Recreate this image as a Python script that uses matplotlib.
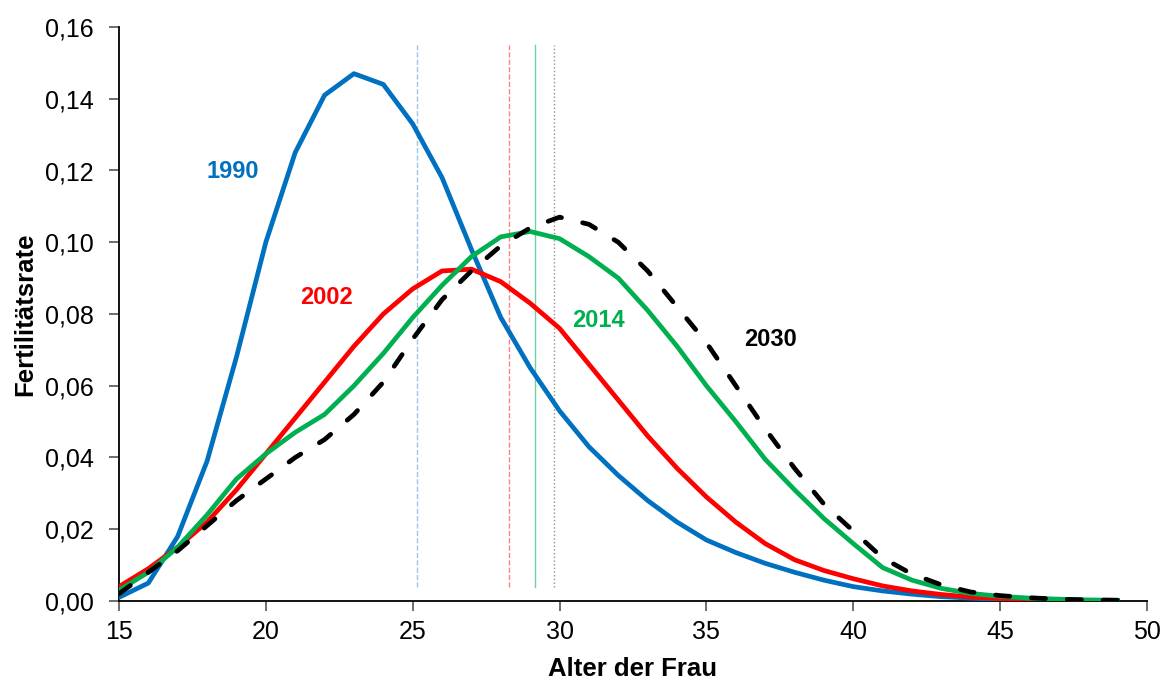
import matplotlib
matplotlib.use("Agg")
import matplotlib.pyplot as plt
import matplotlib.ticker as mticker

plt.rcParams["font.family"] = ["Liberation Sans", "DejaVu Sans"]

BLUE = "#0070C0"
RED = "#FF0000"
GREEN = "#00B050"
BLACK = "#000000"

ages = list(range(15, 50))

rate_1990 = [0.001, 0.005, 0.018, 0.039, 0.068, 0.100, 0.125, 0.141, 0.147, 0.144,
             0.133, 0.118, 0.098, 0.079, 0.065, 0.053, 0.043, 0.035, 0.028, 0.022,
             0.017, 0.0135, 0.0105, 0.008, 0.0058, 0.0040, 0.0028, 0.0019, 0.0012, 0.0008,
             0.0005, 0.0003, 0.0002, 0.0001, 0.0001]
rate_2002 = [0.004, 0.009, 0.015, 0.022, 0.031, 0.041, 0.051, 0.061, 0.071, 0.080,
             0.087, 0.092, 0.0925, 0.089, 0.083, 0.076, 0.066, 0.056, 0.046, 0.037,
             0.029, 0.022, 0.016, 0.0115, 0.0085, 0.0062, 0.0042, 0.0028, 0.0018, 0.0011,
             0.0007, 0.0004, 0.0002, 0.0001, 0.0001]
rate_2014 = [0.003, 0.008, 0.015, 0.024, 0.034, 0.041, 0.047, 0.052, 0.060, 0.069,
             0.079, 0.088, 0.096, 0.1015, 0.103, 0.101, 0.096, 0.090, 0.081, 0.071,
             0.060, 0.050, 0.0395, 0.031, 0.023, 0.016, 0.0093, 0.0058, 0.0035, 0.0021,
             0.0013, 0.0008, 0.0005, 0.0003, 0.0002]
rate_2030 = [0.002, 0.008, 0.014, 0.021, 0.028, 0.034, 0.040, 0.045, 0.052, 0.061,
             0.073, 0.084, 0.092, 0.099, 0.104, 0.107, 0.105, 0.100, 0.092, 0.082,
             0.072, 0.060, 0.048, 0.037, 0.027, 0.0195, 0.012, 0.0075, 0.0045, 0.0025,
             0.0015, 0.0009, 0.0005, 0.0003, 0.0002]

# mean age markers (vertical lines)
mean_ages = [25.15, 28.28, 29.17, 29.8]
mean_colors = ["#9DC3E6", "#FF8080", "#70D0A0", "#909090"]
mean_styles = ["--", "--", "-", ":"]

labels = ["1990", "2002", "2014", "2030"]
label_x = [18.88, 22.08, 31.31, 37.17]
label_y = [0.1196, 0.0846, 0.0783, 0.0728]
label_colors = [BLUE, RED, GREEN, BLACK]

fig = plt.figure(figsize=(11.64, 6.82), dpi=100)
ax = fig.add_axes([0.1022, 0.1188, 0.8832, 0.8416])

for xv, c, ls in zip(mean_ages, mean_colors, mean_styles):
    ax.plot([xv, xv], [0.004, 0.155], color=c, linestyle=ls, linewidth=1.0, zorder=1)

ax.plot(ages, rate_1990, color=BLUE, linewidth=3.4, zorder=3)
ax.plot(ages, rate_2002, color=RED, linewidth=3.4, zorder=3)
ax.plot(ages, rate_2014, color=GREEN, linewidth=3.4, zorder=4)
ax.plot(ages, rate_2030, color=BLACK, linewidth=3.4, linestyle=(0, (3.0, 4.6)),
        dash_capstyle="round", zorder=5)

for t, xv, yv, c in zip(labels, label_x, label_y, label_colors):
    ax.text(xv, yv, t, color=c, fontsize=17, fontweight="bold", ha="center", va="center")

ax.set_xlim(15, 50)
ax.set_ylim(0, 0.16)
ax.xaxis.set_major_locator(mticker.MultipleLocator(5))
ax.yaxis.set_major_locator(mticker.MultipleLocator(0.02))
ax.yaxis.set_major_formatter(mticker.FuncFormatter(lambda v, _: f"{v:.2f}".replace(".", ",")))

ax.spines["top"].set_visible(False)
ax.spines["right"].set_visible(False)
for s in ["left", "bottom"]:
    ax.spines[s].set_linewidth(1.3)
ax.tick_params(axis="both", labelsize=18, direction="out", length=7, width=1.2, color="#555555")
ax.tick_params(axis="y", pad=11)
ax.tick_params(axis="x", pad=7)

ax.set_xlabel("Alter der Frau", fontsize=18.5, fontweight="bold", labelpad=9)
ax.set_ylabel("Fertilitätsrate", fontsize=18.5, fontweight="bold", labelpad=6)

fig.savefig("out.png", dpi=100, facecolor="white")
